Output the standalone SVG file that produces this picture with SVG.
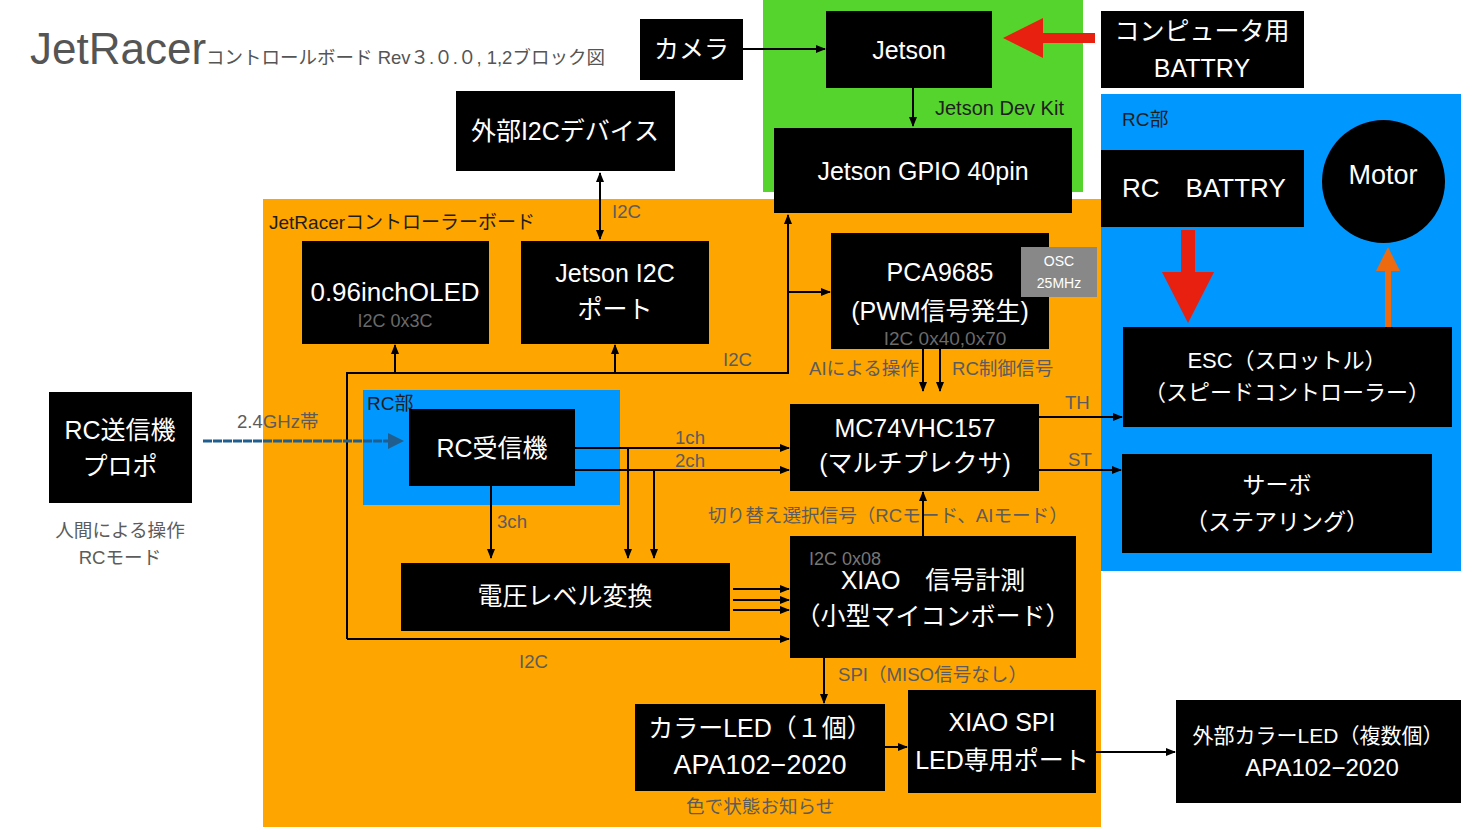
<svg xmlns="http://www.w3.org/2000/svg" width="1461" height="832" viewBox="0 0 1461 832">
<style>
text { font-family: 'Liberation Sans', 'Noto Sans CJK JP', sans-serif; }
.box { fill: #000; }
.w { fill: #fff; font-size: 25px; text-anchor: middle; }
.lbl { fill: #5c5c5c; font-size: 18.6px; }
.dk { fill: #1e1e1e; font-size: 19px; }
.sub { fill: #6a6a6a; font-size: 18px; }
.ln { fill: none; stroke: #000; stroke-width: 2; }
.ae { marker-end: url(#ah); }
</style>
<defs>
<marker id="ah" markerUnits="userSpaceOnUse" markerWidth="10" markerHeight="8" refX="9" refY="4" orient="auto-start-reverse">
<path d="M0,0 L10,4 L0,8 z" fill="#000"/>
</marker>
</defs>
<rect width="1461" height="832" fill="#fff"/>

<!-- regions -->
<g id="regions">
<rect x="763" y="0" width="320" height="192" fill="#56d42e"/>
<rect x="263" y="199" width="838" height="628" fill="#ffa500"/>
<rect x="1101" y="94" width="360" height="477" fill="#0097ff"/>
<rect x="363" y="390" width="257" height="115" fill="#0097ff"/>
</g>

<!-- title -->
<g id="title">
<text x="30" y="64" fill="#555" font-size="44">JetRacer<tspan font-size="18.5">コントロールボード Rev３.０.０, 1,2ブロック図</tspan></text>
</g>

<!-- labels -->
<g id="labels">
<text class="dk" x="935" y="115" style="font-size:20px">Jetson Dev Kit</text>
<text class="dk" x="1122" y="126">RC部</text>
<text class="dk" x="269" y="229">JetRacerコントローラーボード</text>
<text class="dk" x="367" y="410">RC部</text>
<text class="lbl" x="612" y="218">I2C</text>
<text class="lbl" x="723" y="366">I2C</text>
<text class="lbl" x="519" y="668">I2C</text>
<text class="lbl" x="809" y="375">AIによる操作</text>
<text class="lbl" x="952" y="375">RC制御信号</text>
<text class="lbl" x="1065" y="409">TH</text>
<text class="lbl" x="1068" y="466">ST</text>
<text class="lbl" x="675" y="444">1ch</text>
<text class="lbl" x="675" y="467">2ch</text>
<text class="lbl" x="497" y="528">3ch</text>
<text class="lbl" x="237" y="428">2.4GHz帯</text>
<text class="lbl" x="120" y="537" text-anchor="middle">人間による操作</text>
<text class="lbl" x="120" y="564" text-anchor="middle">RCモード</text>
<text class="lbl" x="708" y="522">切り替え選択信号（RCモード、AIモード）</text>
<text class="lbl" x="838" y="681">SPI（MISO信号なし）</text>
<text class="lbl" x="686" y="813">色で状態お知らせ</text>
</g>

<!-- connectors -->
<g id="connectors">
<path class="ln ae" d="M743,49 H825"/>
<path class="ln ae" d="M913,88 V126"/>
<path class="ln" d="M600,173 V239" marker-start="url(#ah)" marker-end="url(#ah)"/>
<path class="ln ae" d="M347,639 V373 H788 V215"/>
<path class="ln ae" d="M395,373 V345"/>
<path class="ln ae" d="M615,373 V345"/>
<path class="ln ae" d="M788,292 H830"/>
<path class="ln ae" d="M347,639 H789"/>
<path class="ln ae" d="M923,349 V391"/>
<path class="ln ae" d="M940,349 V391"/>
<path class="ln ae" d="M575,448 H789"/>
<path class="ln ae" d="M575,470 H789"/>
<path class="ln ae" d="M628,448 V558"/>
<path class="ln ae" d="M654,470 V558"/>
<path class="ln ae" d="M491,486 V558"/>
<path class="ln ae" d="M733,589 H789"/>
<path class="ln ae" d="M733,600 H789"/>
<path class="ln ae" d="M733,610 H789"/>
<path class="ln ae" d="M923,536 V492"/>
<path class="ln ae" d="M1039,417 H1122"/>
<path class="ln ae" d="M1039,470 H1121"/>
<path class="ln ae" d="M824,658 V703"/>
<path class="ln ae" d="M885,747 H907"/>
<path class="ln ae" d="M1096,752 H1175"/>
<path d="M203,441 L390,441" fill="none" stroke="#1f5e8e" stroke-width="3.2" stroke-dasharray="9 1"/>
<path d="M388,433 L404,441 L388,449 z" fill="#1f5e8e"/>
<path d="M1095,33 H1043 V18 L1003,38 L1043,58 V43 H1095 z" fill="#e8200f"/>
<path d="M1181,230 H1195 V272 H1214 L1188,323 L1162,272 H1181 z" fill="#e8200f"/>
<path d="M1385,327 V271 H1376 L1388,247 L1400,271 H1391 V327 z" fill="#ee6a0f"/>
</g>

<!-- nodes -->
<g id="camera"><rect class="box" x="640" y="19" width="103" height="61"/><text class="w" x="691.5" y="58">カメラ</text></g>
<g id="jetson"><rect class="box" x="826" y="11" width="166" height="77"/><text class="w" x="909" y="59">Jetson</text></g>
<g id="pc-battery"><rect class="box" x="1101" y="11" width="203" height="77"/><text class="w" x="1202" y="40">コンピュータ用</text><text class="w" x="1202" y="77">BATTRY</text></g>
<g id="ext-i2c"><rect class="box" x="456" y="91" width="219" height="80"/><text class="w" x="565" y="140">外部I2Cデバイス</text></g>
<g id="gpio"><rect class="box" x="774" y="128" width="298" height="85"/><text class="w" x="923" y="180">Jetson GPIO 40pin</text></g>
<g id="rc-battery"><rect class="box" x="1101" y="150" width="203" height="77"/><text class="w" x="1122" y="197" style="text-anchor:start;font-size:26px">RC　BATTRY</text></g>
<g id="motor"><circle cx="1383.5" cy="181.5" r="61.5" fill="#000"/><text class="w" x="1383" y="184" style="font-size:27px">Motor</text></g>
<g id="oled"><rect class="box" x="302" y="241" width="187" height="103"/><text class="w" x="395" y="301" style="font-size:26px">0.96inchOLED</text><text class="sub" x="395" y="327" text-anchor="middle">I2C 0x3C</text></g>
<g id="jetson-i2c"><rect class="box" x="521" y="241" width="188" height="103"/><text class="w" x="615" y="282">Jetson I2C</text><text class="w" x="615" y="318">ポート</text></g>
<g id="pca"><rect class="box" x="831" y="233" width="218" height="116"/><text class="w" x="940" y="281">PCA9685</text><text class="w" x="940" y="320">(PWM信号発生)</text><text class="sub" x="945" y="345" text-anchor="middle" style="font-size:19px">I2C 0x40,0x70</text></g>
<g id="osc"><rect x="1021" y="247" width="76" height="50" fill="#888"/><text x="1059" y="266" fill="#fff" font-size="14" text-anchor="middle">OSC</text><text x="1059" y="288" fill="#fff" font-size="14" text-anchor="middle">25MHz</text></g>
<g id="esc"><rect class="box" x="1123" y="327" width="329" height="100"/><text class="w" x="1287" y="368" style="font-size:22px">ESC（スロットル）</text><text class="w" x="1287" y="400" style="font-size:22px">（スピードコントローラー）</text></g>
<g id="rc-tx"><rect class="box" x="49" y="392" width="143" height="111"/><text class="w" x="120" y="439">RC送信機</text><text class="w" x="120" y="475">プロポ</text></g>
<g id="rc-rx"><rect class="box" x="409" y="409" width="166" height="77"/><text class="w" x="492" y="457">RC受信機</text></g>
<g id="mc74"><rect class="box" x="790" y="404" width="249" height="87"/><text class="w" x="915" y="437">MC74VHC157</text><text class="w" x="915" y="472">(マルチプレクサ)</text></g>
<g id="servo"><rect class="box" x="1122" y="454" width="310" height="99"/><text class="w" x="1277" y="493" style="font-size:23px">サーボ</text><text class="w" x="1277" y="530" style="font-size:23px">（ステアリング）</text></g>
<g id="level"><rect class="box" x="401" y="563" width="329" height="68"/><text class="w" x="565" y="605">電圧レベル変換</text></g>
<g id="xiao"><rect class="box" x="790" y="536" width="286" height="122"/><text class="sub" x="809" y="565" style="fill:#777">I2C 0x08</text><text class="w" x="933" y="589">XIAO　信号計測</text><text class="w" x="933" y="625">（小型マイコンボード）</text></g>
<g id="color-led"><rect class="box" x="635" y="704" width="250" height="87"/><text class="w" x="760" y="737">カラーLED（１個）</text><text class="w" x="760" y="774" style="font-size:27px">APA102−2020</text></g>
<g id="xiao-spi"><rect class="box" x="908" y="690" width="188" height="103"/><text class="w" x="1002" y="731">XIAO SPI</text><text class="w" x="1002" y="769">LED専用ポート</text></g>
<g id="ext-led"><rect class="box" x="1176" y="700" width="285" height="103"/><text class="w" x="1318" y="743" style="font-size:21px">外部カラーLED（複数個）</text><text class="w" x="1322" y="776" style="font-size:24px">APA102−2020</text></g>
</svg>
